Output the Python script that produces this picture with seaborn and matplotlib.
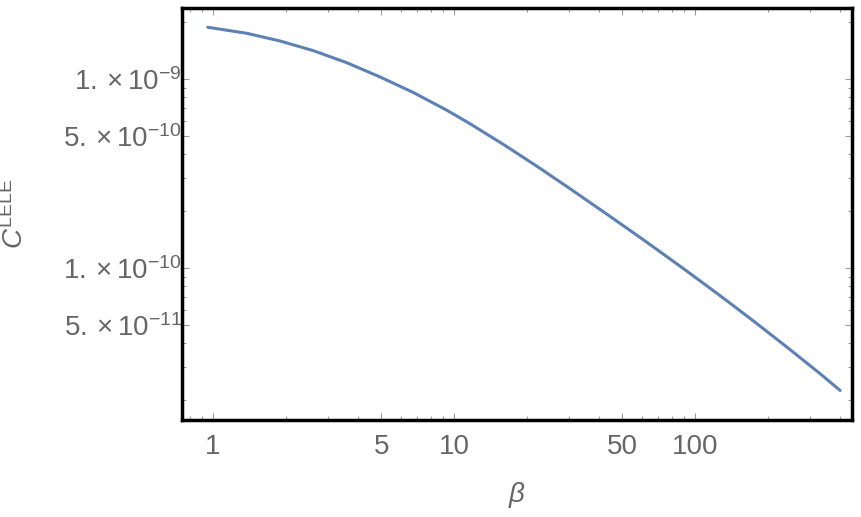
import numpy as np
import pandas as pd
import matplotlib
matplotlib.use("Agg")
import matplotlib.pyplot as plt
import matplotlib.ticker as mticker
import seaborn as sns

# values (log-log curve)
beta = [0.951, 1.380, 1.897, 2.608, 3.587, 4.932, 6.778, 9.326, 11.65, 16.02,
        22.03, 30.29, 41.65, 57.30, 67.14, 92.36, 127.0, 174.6, 240.3, 330.1,
        400]
c_lele = [1.878e-9, 1.745e-9, 1.589e-9, 1.412e-9, 1.220e-9, 1.025e-9,
          8.485e-10, 6.839e-10, 5.800e-10, 4.508e-10, 3.461e-10, 2.628e-10,
          1.985e-10, 1.493e-10, 1.293e-10, 9.641e-11, 7.144e-11, 5.249e-11,
          3.820e-11, 2.762e-11, 2.25e-11]

x_major = [1, 5, 10, 50, 100]
x_major_labels = ["1", "5", "10", "50", "100"]
y_major = [1e-9, 5e-10, 1e-10, 5e-11]
y_major_labels = [r"$1.\times10^{-9}$", r"$5.\times10^{-10}$",
                  r"$1.\times10^{-10}$", r"$5.\times10^{-11}$"]

sns.set_style("white")
plt.rcParams['font.family'] = ['Liberation Sans', 'DejaVu Sans']
plt.rcParams['mathtext.fontset'] = 'custom'
plt.rcParams['mathtext.rm'] = 'Liberation Sans'
plt.rcParams['mathtext.it'] = 'Liberation Sans:italic'
plt.rcParams['mathtext.bf'] = 'Liberation Sans:bold'

text_gray = "#666666"
tick_gray = "#9a9a9a"

df = pd.DataFrame({"beta": beta, "C": c_lele})

fig = plt.figure(figsize=(8.61, 5.17), dpi=100)
ax = fig.add_axes([182 / 861, 1 - 420 / 517, (852 - 182) / 861, (420 - 7.5) / 517])

sns.lineplot(data=df, x="beta", y="C", ax=ax, color="#5e81b5", linewidth=2.2,
             sort=False)

ax.set_xscale("log")
ax.set_yscale("log")
ax.set_xlim(0.7436, 448)
ax.set_ylim(1.57e-11, 2.389e-9)

# ticks
ax.xaxis.set_major_locator(mticker.FixedLocator(x_major))
ax.xaxis.set_major_formatter(mticker.FixedFormatter(x_major_labels))
ax.xaxis.set_minor_locator(mticker.LogLocator(base=10, subs=np.arange(2, 10)))
ax.xaxis.set_minor_formatter(mticker.NullFormatter())
ax.yaxis.set_major_locator(mticker.FixedLocator(y_major))
ax.yaxis.set_major_formatter(mticker.FixedFormatter(y_major_labels))
ax.yaxis.set_minor_locator(mticker.LogLocator(base=10, subs=np.arange(1, 10)))
ax.yaxis.set_minor_formatter(mticker.NullFormatter())

ax.tick_params(which="both", direction="in", top=True, right=True,
               bottom=True, left=True, color=tick_gray, width=0.8,
               labelcolor=text_gray, labelsize=20)
ax.tick_params(which="major", length=5)
ax.tick_params(which="minor", length=3)
ax.tick_params(axis="x", which="major", pad=10)
ax.tick_params(axis="y", which="major", pad=0)

for side in ["left", "right", "top", "bottom"]:
    ax.spines[side].set_visible(True)
    ax.spines[side].set_color("black")
    ax.spines[side].set_linewidth(2.5)

ax.set_xlabel("β", fontsize=20, color=text_gray, fontstyle="italic")
ax.set_ylabel(r"$C^{\mathrm{LELE}}$", fontsize=20, color=text_gray)
ax.xaxis.set_label_coords(0.5, -0.150)
ax.yaxis.set_label_coords(-0.228, 0.5)
ax.grid(False)

fig.savefig("out.png", dpi=100)
plt.close(fig)
